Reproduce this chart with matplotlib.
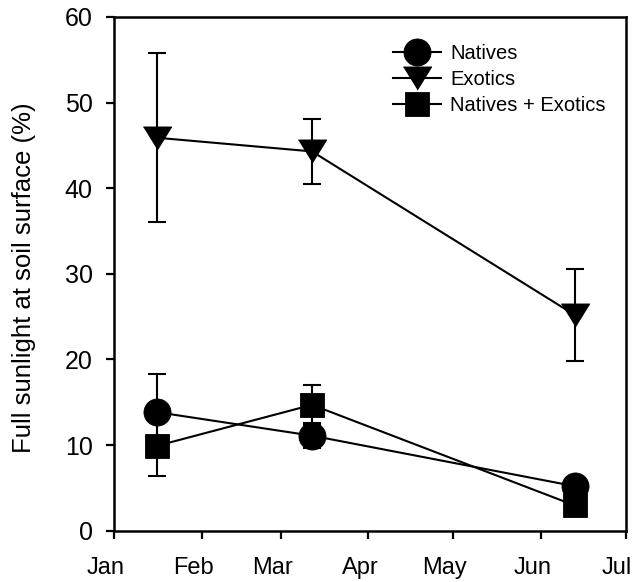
import matplotlib
matplotlib.use("Agg")
import matplotlib.pyplot as plt
import matplotlib.dates as mdates
from matplotlib.transforms import ScaledTranslation
import numpy as np
import datetime as dt

plt.rcParams['font.family'] = ['Liberation Sans', 'DejaVu Sans']

# ---- data ----
dates = ["2001-01-16", "2001-03-12", "2001-06-13"]
natives = [13.85, 11.1, 5.2]
natives_err = [4.4, 1.45, 0.8]
exotics = [45.9, 44.3, 25.2]
exotics_err = [9.9, 3.8, 5.35]
mixed = [9.9, 14.7, 2.95]
mixed_err = [3.5, 2.3, 0.8]
labels = ["Natives", "Exotics", "Natives + Exotics"]
ylabel = "Full sunlight at soil surface (%)"

x = [dt.datetime.strptime(d, "%Y-%m-%d") for d in dates]

fig = plt.figure(figsize=(6.32, 5.82), dpi=100)
ax = fig.add_axes([114.3/632, 1-530.7/582, (625.5-114.3)/632, (530.7-17.0)/582])

tri = [(-1, 0.81), (1, 0.81), (0, -0.81)]
series = [
    (natives, natives_err, 'o', 19.5),
    (exotics, exotics_err, tri, 20.5),
    (mixed, mixed_err, 's', 17.5),
]

# error bars first (below markers)
for vals, errs, m, ms in series:
    ax.errorbar(x, vals, yerr=errs, fmt='none', ecolor='black', elinewidth=1.5,
                capsize=6.5, capthick=1.5, zorder=2)

for (vals, errs, m, ms), lab in zip(series, labels):
    ax.plot(x, vals, color='black', lw=1.5, marker=m, markersize=ms,
            markerfacecolor='black', markeredgecolor='black',
            markeredgewidth=0.6, label=lab, zorder=3)

ax.set_xlim(dt.datetime(2001, 1, 1), dt.datetime(2001, 7, 1))
ax.set_ylim(0, 60)
ax.set_yticks(np.arange(0, 61, 10))
ax.xaxis.set_major_locator(mdates.MonthLocator())
ax.xaxis.set_major_formatter(mdates.DateFormatter('%b'))
ax.minorticks_off()

for s in ax.spines.values():
    s.set_linewidth(1.8)
ax.tick_params(axis='both', direction='out', length=6, width=1.6)
ax.tick_params(axis='y', pad=9.5, labelsize=18)
ax.tick_params(axis='x', pad=13, labelsize=17)

shift = ScaledTranslation(-8.5/100, 0, fig.dpi_scale_trans)
for lbl in ax.get_xticklabels():
    lbl.set_transform(lbl.get_transform() + shift)

fig.text(24.5/632, 1-277.2/582, ylabel, rotation=90, ha='center', va='center',
         fontsize=18.5)

leg = ax.legend(loc='upper left', bbox_to_anchor=(392.5/632, 1-44/582),
                bbox_transform=fig.transFigure, frameon=False, borderpad=0,
                handlelength=2.4, handletextpad=0.45, labelspacing=0.35,
                fontsize=14.5, numpoints=1, borderaxespad=0)

fig.savefig("out.png", dpi=100)
